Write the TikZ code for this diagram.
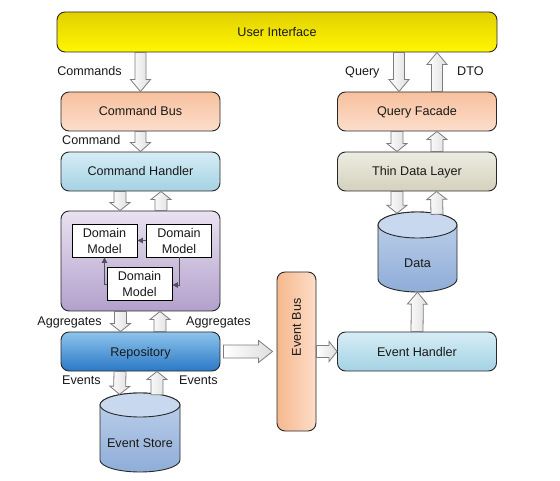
\documentclass[tikz,border=0pt]{standalone}
\usepackage{fontspec}
\setmainfont{Liberation Sans}
\usepackage{graphicx}
\usetikzlibrary{calc,arrows.meta}
\definecolor{bordc}{RGB}{40,40,40}
\definecolor{txtc}{RGB}{25,25,25}
\definecolor{uiT}{RGB}{226,208,0}
\definecolor{uiB}{RGB}{255,247,0}
\definecolor{peachT}{RGB}{247,192,158}
\definecolor{peachB}{RGB}{252,222,204}
\definecolor{lblueT}{RGB}{214,237,245}
\definecolor{lblueB}{RGB}{164,210,227}
\definecolor{purT}{RGB}{233,226,241}
\definecolor{purB}{RGB}{178,160,203}
\definecolor{repT}{RGB}{142,196,237}
\definecolor{repB}{RGB}{42,120,197}
\definecolor{tdlT}{RGB}{237,236,226}
\definecolor{tdlB}{RGB}{212,209,188}
\definecolor{ebL}{RGB}{246,184,142}
\definecolor{ebR}{RGB}{252,221,200}
\definecolor{cylTop}{RGB}{200,216,238}
\definecolor{cylBT}{RGB}{192,210,235}
\definecolor{cylBB}{RGB}{143,173,216}
\definecolor{arrB}{RGB}{125,125,125}
\definecolor{arrR}{RGB}{222,222,222}
\definecolor{dmArr}{RGB}{80,80,92}
\tikzset{
  fnt/.style={font=\fontsize{12.6}{16}\selectfont},
  box/.style={fnt, draw=bordc, line width=0.9pt, rounded corners=8pt,
    minimum width=159pt, minimum height=39pt, inner sep=0pt,
    text height=9pt, text depth=0pt, text=txtc},
  uibox/.style={box, top color=uiT, bottom color=uiB, minimum width=440pt, minimum height=40pt},
  peachbox/.style={box, top color=peachT, bottom color=peachB},
  bluebox/.style={box, top color=lblueT, bottom color=lblueB},
  repbox/.style={box, top color=repT, bottom color=repB},
  tdlbox/.style={box, top color=tdlT, bottom color=tdlB},
  purbox/.style={draw=bordc, line width=0.9pt, rounded corners=8pt, top color=purT, bottom color=purB,
    minimum width=159pt, minimum height=100pt, inner sep=0pt},
  ebbox/.style={box, left color=ebL, right color=ebR, minimum width=39pt, minimum height=159pt},
  dmbox/.style={fnt, draw=black, line width=0.9pt, fill=white, minimum width=65pt, minimum height=33pt,
    inner sep=0pt, align=center, text=txtc},
  dmarrow/.style={draw=dmArr, line width=0.9pt, -{Triangle[length=5.5pt,width=5.5pt]}},
  lbl/.style={fnt, inner sep=0pt, text=txtc},
  cylbox/.style={minimum width=#1, inner sep=0pt},
  cylshape/.style={draw=bordc, line width=0.9pt, top color=cylBT, bottom color=cylBB},
  cyltop/.style={draw=bordc, line width=0.9pt, fill=cylTop},
  blockarrow/.style={draw=arrB, line width=0.8pt, left color=white, right color=arrR, line join=miter}
}
% #1 head length, #2 half shaft width, #3 half head width, #4 from, #5 to
\newcommand{\barrow}[5]{%
  \path[blockarrow] let \p1=(#4), \p2=(#5),
     \n1={veclen(\x2-\x1,\y2-\y1)}, \n2={(\x2-\x1)/\n1}, \n3={(\y2-\y1)/\n1} in
    ({\x1-#2*\n3},{\y1+#2*\n2}) -- ({\x2-#1*\n2-#2*\n3},{\y2-#1*\n3+#2*\n2})
    -- ({\x2-#1*\n2-#3*\n3},{\y2-#1*\n3+#3*\n2}) -- (\p2)
    -- ({\x2-#1*\n2+#3*\n3},{\y2-#1*\n3-#3*\n2}) -- ({\x2-#1*\n2+#2*\n3},{\y2-#1*\n3-#2*\n2})
    -- ({\x1+#2*\n3},{\y1-#2*\n2}) -- cycle;}
\begin{document}
\begin{tikzpicture}[x=1pt,y=-1pt]
\fill[white] (0,0) rectangle (560,481);
\useasboundingbox (0,0) rectangle (560,481);

% boxes
\node[uibox] (ui) at (277,32) {User Interface};
\node[peachbox] (cb) at (140.5,111.5) {Command Bus};
\node[bluebox] (ch) at (140.5,171.5) {Command Handler};
\node[purbox] (dm) at (140.5,261) {};
\node[repbox] (repo) at (140.5,351.5) {Repository};
\node[peachbox] (qf) at (417,111.5) {Query Facade};
\node[tdlbox] (tdl) at (417,171.5) {Thin Data Layer};
\node[bluebox] (eh) at (417,351.5) {Event Handler};
\node[ebbox] (eb) at (296.5,351.5) {\rotatebox{90}{Event Bus}};

% domain models
\node[dmbox] (dm1) at (104.5,240.5) {Domain\\Model};
\node[dmbox] (dm2) at (179,240.5) {Domain\\Model};
\node[dmbox] (dm3) at (139.5,283.5) {Domain\\Model};
\draw[dmarrow] (dm2.west) -- (dm1.east);
\draw[dmarrow] (dm2.south) |- ([yshift=-1.5pt]dm3.east);
\draw[dmarrow] ([yshift=-0.5pt]dm3.west) -| (dm1.south);

% cylinders
\path[cylshape] (100,405) -- (100,460) arc[start angle=180, end angle=360, x radius=40pt, y radius=12pt]
  -- (180,405) arc[start angle=0, end angle=180, x radius=40pt, y radius=12pt] -- cycle;
\path[cyltop] (140,405) ellipse[x radius=40pt, y radius=12pt];
\node[cylbox=80pt, minimum height=79pt] (es) at (140,432.5) {};
\node[lbl] (estxt) at (140,443) {Event Store};

\path[cylshape] (378,225) -- (378,279) arc[start angle=180, end angle=360, x radius=39.5pt, y radius=13pt]
  -- (457,225) arc[start angle=0, end angle=180, x radius=39.5pt, y radius=13pt] -- cycle;
\path[cyltop] (417.5,225) ellipse[x radius=39.5pt, y radius=13pt];
\node[cylbox=79pt, minimum height=80pt] (data) at (417.5,252) {};
\node[lbl] (datatxt) at (417.5,263) {Data};

% labels
\node[lbl, anchor=base east] (lcmds) at (122,75.5) {Commands};
\node[lbl, anchor=base west] (lcmd) at (62,144.5) {Command};
\node[lbl, anchor=base west] (lq) at (345,75.5) {Query};
\node[lbl, anchor=base west] (ldto) at (457,75.5) {DTO};
\node[lbl, anchor=base east] (lagg1) at (102,325.5) {Aggregates};
\node[lbl, anchor=base west] (lagg2) at (186,325.5) {Aggregates};
\node[lbl, anchor=base west] (lev1) at (62,384.5) {Events};
\node[lbl, anchor=base west] (lev2) at (179,384.5) {Events};

% helper coordinates
\coordinate (q1) at ([xshift=-18pt]qf.north);
\coordinate (q2) at ([xshift=20pt]qf.north);

% block arrows
\barrow{12}{5.5}{10}{ui.south -| cb}{cb.north}
\barrow{9}{5.5}{10}{cb.south}{ch.north}
\barrow{8}{6}{10}{[xshift=-20.5pt]ch.south}{[xshift=-20.5pt]dm.north}
\barrow{8}{6}{10}{[xshift=20.5pt]dm.north}{[xshift=20.5pt]ch.south}
\barrow{8}{6}{10}{[xshift=-20pt]dm.south}{[xshift=-20pt]repo.north}
\barrow{8}{6}{10}{[xshift=19.5pt]repo.north}{[xshift=19.5pt]dm.south}
\barrow{8}{6}{10}{[xshift=-20.5pt]repo.south}{[xshift=-20.5pt,yshift=-1.5pt]es.north}
\barrow{8}{6}{10}{[xshift=17pt,yshift=-2pt]es.north}{[xshift=16.5pt]repo.south}
\barrow{12}{5.5}{10}{ui.south -| q1}{q1}
\barrow{12}{5.5}{10}{q2}{ui.south -| q2}
\barrow{8}{6}{10}{[xshift=-20pt]qf.south}{[xshift=-20pt]tdl.north}
\barrow{8}{6}{10}{[xshift=20pt]tdl.north}{[xshift=20pt]qf.south}
\barrow{8}{6}{10}{[xshift=-20pt]tdl.south}{[xshift=-20.5pt,yshift=-1.5pt]data.north}
\barrow{8}{6}{10}{[xshift=19.5pt,yshift=-2.5pt]data.north}{[xshift=19.5pt]tdl.south}
\barrow{12}{6}{10}{eh.north}{data.south}
\barrow{14}{6.5}{11}{[xshift=3pt]repo.east}{[xshift=-4pt]eb.west}
\barrow{8}{6}{10}{eb.east}{eh.west}
\end{tikzpicture}
\end{document}
